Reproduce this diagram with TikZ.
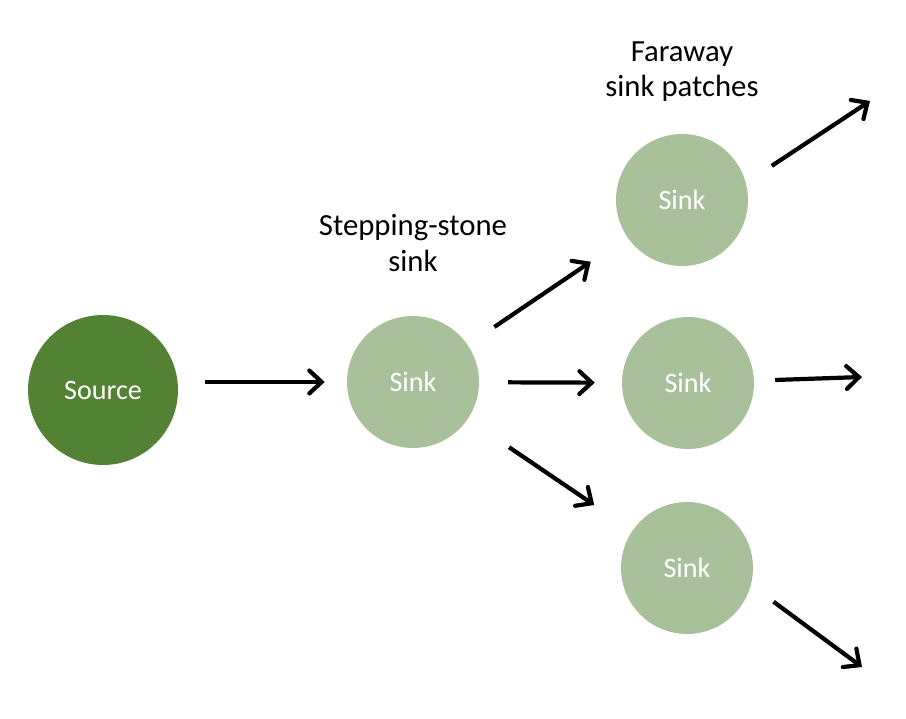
\documentclass[tikz,border=0pt]{standalone}
\usepackage{fontspec}
\setmainfont{Carlito}
\usepackage{tikz}
\usetikzlibrary{arrows.meta}
\definecolor{C0}{HTML}{548235}
\definecolor{C1}{HTML}{A9C19B}
\tikzset{patch/.style={circle, fill=#1, text=white, minimum size=2.64cm, inner sep=0pt, font=\fontsize{16}{19}\selectfont},
flow/.style={line width=2.4pt, -{Straight Barb[length=7pt,width=13pt,line cap=round]}}}

\begin{document}
\begin{tikzpicture}[x=0.02cm,y=-0.02cm]
\useasboundingbox (0,0) rectangle (906,719);
\node[patch=C0, minimum size=3cm] (src) at (103,390) {Source};
\node[patch=C1] (ss) at (413,382) {Sink};
\node[patch=C1] (ftop) at (682,200) {Sink};
\node[patch=C1] (fmid) at (688,383) {Sink};
\node[patch=C1] (fbot) at (687,568) {Sink};
\coordinate (otop) at (870,101);
\coordinate (omid) at (862,377);
\coordinate (obot) at (862,667);
\node[align=center, font=\fontsize{17.5}{20}\selectfont] (sslabel) at (413,243) {Stepping-stone\\sink};
\node[align=center, font=\fontsize{17.5}{20}\selectfont] (flabel) at (682,72) {Faraway\\sink patches};
\draw[flow, shorten <=27pt*0.567, shorten >=22pt*0.567] (src.east |- ss.west) -- (ss.west);
\draw[flow, shorten <=32pt*0.567, shorten >=44pt*0.567] (ss) -- (ftop);
\draw[flow, shorten <=29pt*0.567, shorten >=27pt*0.567] (ss) -- (fmid);
\draw[flow, shorten <=50pt*0.567, shorten >=46pt*0.567] (ss) -- (fbot);
\draw[flow, shorten <=31pt*0.567] (ftop.15) -- (otop);
\draw[flow, shorten <=21pt*0.567] (fmid) -- (omid);
\draw[flow, shorten <=28pt*0.567] (fbot.-15) -- (obot);
\end{tikzpicture}
\end{document}
